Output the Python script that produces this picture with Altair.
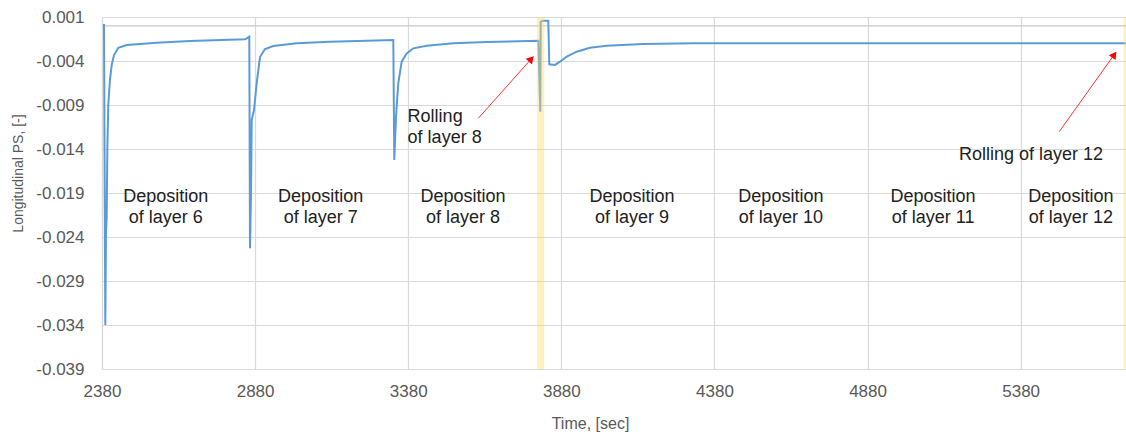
import altair as alt
import pandas as pd

# ---- main series ----
time_s = [2386.5, 2390.8, 2393.0, 2395.3, 2397.4, 2400.6, 2406.0, 2411.7, 2419.2, 2433.2,
          2460.7, 2558.6, 2667.4, 2847.0, 2854.5, 2861.0,
          2863.3, 2866.6, 2868.9, 2876.4, 2885.2, 2896.0, 2912.3, 2939.4, 3015.8, 3124.5,
          3331.3, 3334.5,
          3340.1, 3347.6, 3358.7, 3375.0, 3396.6, 3440.3, 3527.2, 3636.3, 3804.8,
          3811.3, 3812.6, 3821.1, 3837.4, 3840.7, 3859.3, 3875.6, 3897.5, 3930.2, 3973.6,
          4028.1, 4147.6, 4310.9, 4691.9, 5724.0]
ps_values = [0.0002, -0.0340, -0.0235, -0.0217, -0.0141, -0.0089, -0.00616, -0.00445, -0.00332, -0.00249,
             -0.00218, -0.00192, -0.00173, -0.00153, -0.0014, -0.00124,
             -0.02528, -0.0190, -0.0107, -0.00957, -0.0065, -0.00355, -0.00264, -0.0023, -0.00199, -0.00181,
             -0.00161, -0.01525,
             -0.01033, -0.0065, -0.00408, -0.00313, -0.00256, -0.00226, -0.00199, -0.00184, -0.00169,
             -0.00976, 0.00047, 0.00058, 0.00058, -0.00438, -0.00445, -0.00408, -0.00351, -0.00294, -0.00249,
             -0.00226, -0.00207, -0.00199, -0.00199, -0.00199]

# ---- highlighted rolling bands ----
band_start = [3800, 5716]
band_end = [3824, 5724]

# ---- axis ticks ----
x_ticks = [2380, 2880, 3380, 3880, 4380, 4880, 5380]
y_ticks = [0.001, -0.004, -0.009, -0.014, -0.019, -0.024, -0.029, -0.034, -0.039]

# ---- text annotations (position = centre of first line) ----
dep_labels = [["Deposition", "of layer 6"], ["Deposition", "of layer 7"], ["Deposition", "of layer 8"],
              ["Deposition", "of layer 9"], ["Deposition", "of layer 10"], ["Deposition", "of layer 11"],
              ["Deposition", "of layer 12"]]
dep_t = [2588, 3094, 3559, 4111, 4597, 5094, 5544]
dep_v = [-0.01945] * 7

roll8_label = [["Rolling", "of layer 8"]]
roll8_t = [3378]
roll8_v = [-0.01033]

roll12_label = ["Rolling of layer 12"]
roll12_t = [5649]
roll12_v = [-0.01468]

# arrows: start (t, v) -> tip (t, v), head centre and angle
arrow_t0 = [3608.8, 5506.0]
arrow_v0 = [-0.01051, -0.01203]
arrow_t1 = [3788.4, 5691.0]
arrow_v1 = [-0.00351, -0.00301]
head_t = [3781.9, 5685.7]
head_v = [-0.00376, -0.00328]
head_angle = [42, 35]

FONT = "Liberation Sans"
W, H = 1024, 352
x_scale = alt.Scale(domain=[2380, 5724], nice=False, zero=False)
y_scale = alt.Scale(domain=[-0.039, 0.001], nice=False, zero=False)

line_df = pd.DataFrame({"t": time_s, "v": ps_values})
band_df = pd.DataFrame({"t0": band_start, "t1": band_end})
dep_df = pd.DataFrame({"t": dep_t, "v": dep_v, "label": dep_labels})
r8_df = pd.DataFrame({"t": roll8_t, "v": roll8_v, "label": roll8_label})
r12_df = pd.DataFrame({"t": roll12_t, "v": roll12_v, "label": roll12_label})
arrow_df = pd.DataFrame({"t0": arrow_t0, "v0": arrow_v0, "t1": arrow_t1, "v1": arrow_v1})
head_df = pd.DataFrame({"t": head_t, "v": head_v, "a": head_angle})

base_line = alt.Chart(line_df).mark_line(color="#5B9BD5", strokeWidth=2).encode(
    x=alt.X("t:Q", scale=x_scale, axis=alt.Axis(
        values=x_ticks, format="d", title="Time, [sec]", grid=True, gridColor="#d9d9d9", gridWidth=1.2,
        domainColor="#d9d9d9", domainWidth=1.2, ticks=False, labelFontSize=17, labelColor="#595959",
        labelFont=FONT, labelPadding=14, titleFont=FONT, titleFontSize=16, titleColor="#595959",
        titleFontWeight="normal", titleX=488, titleY=54, titleBaseline="middle", labelFlush=False)),
    y=alt.Y("v:Q", scale=y_scale, axis=alt.Axis(
        values=y_ticks, title="Longitudinal PS, [-]", grid=True, gridColor="#d9d9d9", gridWidth=1.2,
        domainColor="#d9d9d9", domainWidth=1.2, ticks=False, labelFontSize=17, labelColor="#595959",
        labelFont=FONT, labelPadding=18, titleFont=FONT, titleFontSize=14, titleColor="#595959",
        titleFontWeight="normal", titleX=-84, titleY=156, titleBaseline="middle", labelFlush=False,
        labelExpr="(datum.value < 0 ? '-' : '') + format(abs(datum.value), '.3f')")),
)

zero_rule = alt.Chart(pd.DataFrame({"v": [0.0]})).mark_rule(color="#c8c8c8", strokeWidth=1.3).encode(
    y=alt.Y("v:Q", scale=y_scale))

bands = alt.Chart(band_df).mark_rect(color="#FFD966", opacity=0.4).encode(
    x=alt.X("t0:Q", scale=x_scale), x2="t1:Q", y=alt.value(0), y2=alt.value(H))

dep_text = alt.Chart(dep_df).mark_text(font=FONT, fontSize=18, color="#222222", lineHeight=21,
                                       align="center", baseline="middle").encode(
    x=alt.X("t:Q", scale=x_scale), y=alt.Y("v:Q", scale=y_scale), text="label")

r8_text = alt.Chart(r8_df).mark_text(font=FONT, fontSize=18, color="#222222", lineHeight=21,
                                     align="left", baseline="middle").encode(
    x=alt.X("t:Q", scale=x_scale), y=alt.Y("v:Q", scale=y_scale), text="label")

r12_text = alt.Chart(r12_df).mark_text(font=FONT, fontSize=18, color="#222222",
                                       align="right", baseline="middle").encode(
    x=alt.X("t:Q", scale=x_scale), y=alt.Y("v:Q", scale=y_scale), text="label")

arrows = alt.Chart(arrow_df).mark_rule(color="#FF3030", strokeWidth=1).encode(
    x=alt.X("t0:Q", scale=x_scale), y=alt.Y("v0:Q", scale=y_scale), x2="t1:Q", y2="v1:Q")

heads = alt.Chart(head_df).mark_point(shape="triangle-up", filled=True, color="#FF0000",
                                      size=70, opacity=1).encode(
    x=alt.X("t:Q", scale=x_scale), y=alt.Y("v:Q", scale=y_scale), angle=alt.Angle("a:Q", scale=None))

chart = alt.layer(zero_rule, base_line, bands, dep_text, r8_text, r12_text, arrows, heads).properties(
    width=W, height=H,
    padding={"left": 102, "top": 17, "right": 0, "bottom": 67},
    autosize=alt.AutoSizeParams(type="none"),
    background="white",
).configure_view(stroke=None)

chart.save("out.html", embed_options={"renderer": "svg", "actions": False})
